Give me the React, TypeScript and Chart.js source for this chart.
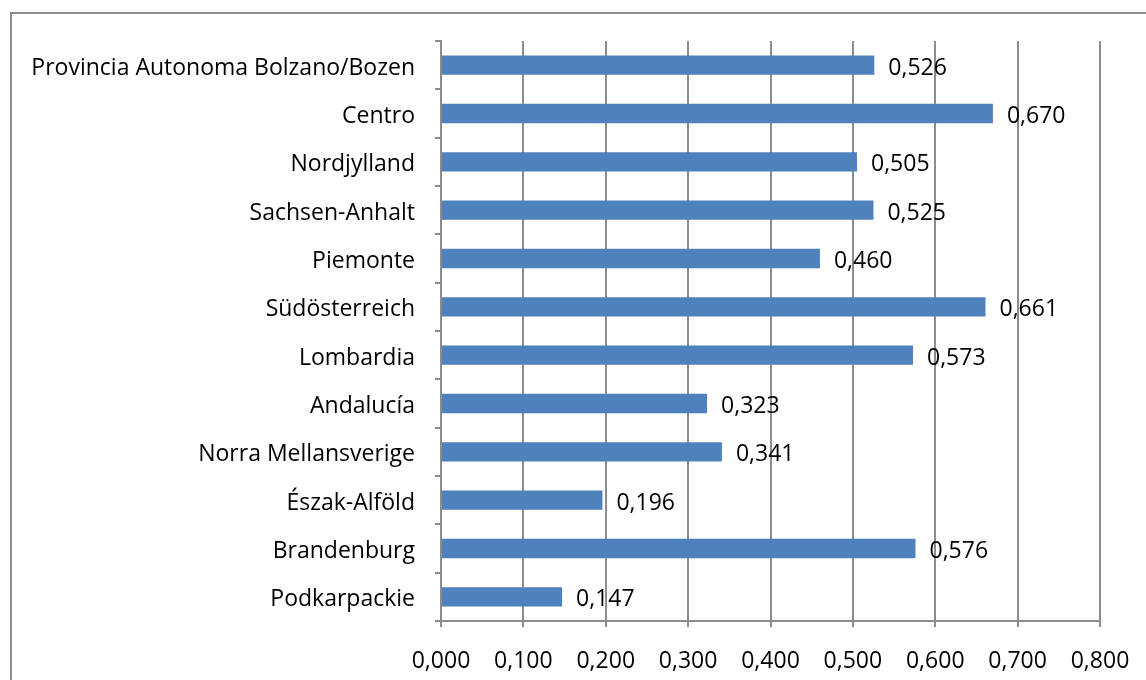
import React, { useEffect, useRef } from "react";
import { Chart, registerables } from "chart.js";

Chart.register(...registerables);

const categories: string[] = [
  "Provincia Autonoma Bolzano/Bozen",
  "Centro",
  "Nordjylland",
  "Sachsen-Anhalt",
  "Piemonte",
  "Südösterreich",
  "Lombardia",
  "Andalucía",
  "Norra Mellansverige",
  "Észak-Alföld",
  "Brandenburg",
  "Podkarpackie",
];

const values: number[] = [0.526, 0.67, 0.505, 0.525, 0.46, 0.661, 0.573, 0.323, 0.341, 0.196, 0.576, 0.147];

const xMin = 0;
const xMax = 0.8;
const xStep = 0.1;

const FONT = "'Open Sans', sans-serif";
const FSIZE = 23;
const GRID = "#8c8c8c";
const BAR = "#4f81bd";

const fmt = (v: number) => v.toFixed(3).replace(".", ",");

const framePlugin = {
  id: "frame",
  beforeDraw(chart: any) {
    const ctx = chart.ctx;
    ctx.save();
    ctx.strokeStyle = GRID;
    ctx.lineWidth = 2;
    ctx.beginPath();
    ctx.moveTo(11, 680);
    ctx.lineTo(11, 13);
    ctx.lineTo(1146, 13);
    ctx.stroke();
    ctx.restore();
  },
};

const labelPlugin = {
  id: "valueLabels",
  afterDatasetsDraw(chart: any) {
    const ctx = chart.ctx;
    const meta = chart.getDatasetMeta(0);
    ctx.save();
    ctx.font = `${FSIZE}px ${FONT}`;
    ctx.fillStyle = "#000";
    ctx.textAlign = "left";
    ctx.textBaseline = "middle";
    meta.data.forEach((bar: any, i: number) => {
      ctx.fillText(fmt(values[i]), bar.x + 14, bar.y + 3);
    });
    ctx.restore();
  },
};

export default function App() {
  const ref = useRef<HTMLCanvasElement | null>(null);
  useEffect(() => {
    if (!ref.current) return;
    const chart = new Chart(ref.current, {
      type: "bar",
      data: {
        labels: categories,
        datasets: [
          {
            data: values,
            backgroundColor: BAR,
            borderWidth: 0,
            categoryPercentage: 1,
            barPercentage: 0.4,
          },
        ],
      },
      options: {
        indexAxis: "y",
        responsive: false,
        animation: false,
        layout: { padding: { left: 10, right: 46, top: 41, bottom: 0 } },
        plugins: { legend: { display: false }, tooltip: { enabled: false } },
        scales: {
          x: {
            min: xMin,
            max: xMax,
            afterFit: (s: any) => {
              s.height = 59;
              s.paddingLeft = 0;
              s.paddingRight = 0;
            },
            ticks: {
              stepSize: xStep,
              color: "#000",
              font: { family: FONT, size: FSIZE },
              padding: 21,
              maxRotation: 0,
              callback: (v: any) => fmt(Number(v)),
            },
            grid: { color: GRID, lineWidth: 2, tickLength: 6 },
            border: { color: GRID, width: 2 },
          },
          y: {
            afterFit: (s: any) => {
              s.width = 431;
            },
            ticks: {
              color: "#000",
              font: { family: FONT, size: FSIZE },
              padding: 20,
              labelOffset: 3,
            },
            grid: { drawOnChartArea: false, color: GRID, lineWidth: 2, tickLength: 6 },
            border: { color: GRID, width: 2 },
          },
        },
      },
      plugins: [framePlugin, labelPlugin],
    });
    return () => chart.destroy();
  }, []);
  return (
    <canvas
      ref={ref}
      width={1146}
      height={680}
      style={{ position: "fixed", left: 0, top: 0, display: "block", background: "#fff" }}
    />
  );
}
